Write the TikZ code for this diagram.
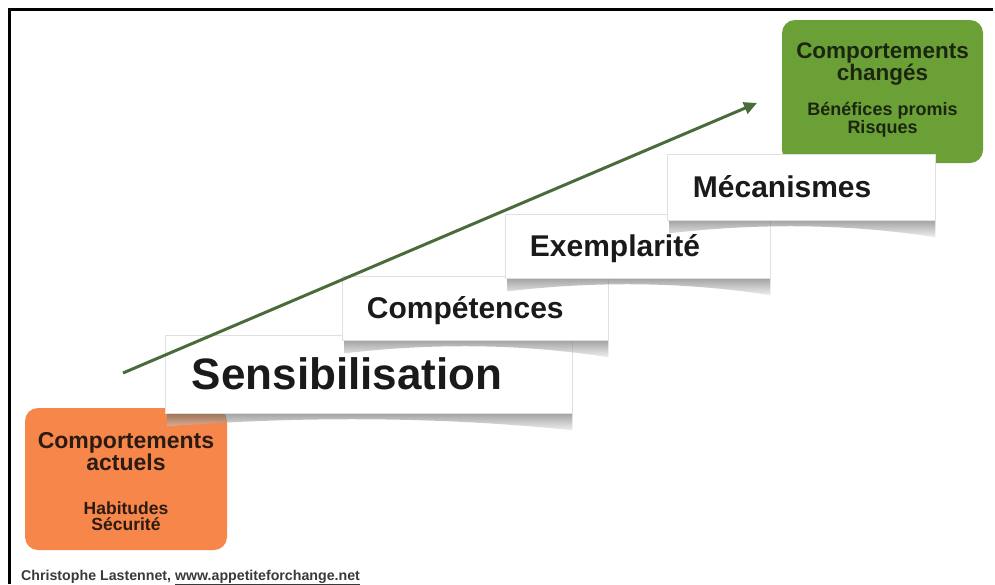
\documentclass[tikz,border=0pt]{standalone}
\usepackage{fontspec}
\setmainfont{Liberation Sans}
\usetikzlibrary{arrows.meta,calc}

\definecolor{startorange}{HTML}{F6864A}
\definecolor{goalgreen}{HTML}{6BA037}
\definecolor{arrowgreen}{HTML}{4A6B3A}
\definecolor{ink}{HTML}{1A1A1A}
\definecolor{orangeink}{HTML}{2B1B12}
\definecolor{greenink}{HTML}{1B2610}
\definecolor{creditgrey}{HTML}{3A3A3A}

\tikzset{
  statebox/.style={rounded corners=13pt, inner sep=0pt},
  statetitle/.style={align=center, inner sep=0pt, font=\bfseries\fontsize{23}{22}\selectfont},
  statesub/.style={align=center, inner sep=0pt, font=\bfseries\fontsize{17.5}{16}\selectfont},
  stepbox/.style={draw=black!12, line width=0.6pt, fill=white, inner sep=0pt},
  steplabel/.style={anchor=base west, inner sep=0pt, text=ink, font=\bfseries\fontsize{30}{31}\selectfont},
  stepshadow/.style={top color=black!60, bottom color=black!10, fill opacity=0.6},
  progress/.style={draw=arrowgreen, line width=3pt, -{Triangle[length=13pt,width=12pt]}},
}

% shadow under a step: darker just below the card, bottom edge bowed upward
\newcommand{\cardshadow}[1]{%
  \shade[stepshadow]
    ([xshift=3pt]#1.south west)
    -- ([xshift=3pt,yshift=-13pt]#1.south west)
    .. controls ($(#1.south west)!0.33!(#1.south east)+(0,-3pt)$)
       and ($(#1.south west)!0.67!(#1.south east)+(0,-3pt)$) ..
    ([yshift=-17pt]#1.south east)
    -- (#1.south east) -- cycle;}

\begin{document}
\begin{tikzpicture}[x=1pt,y=-1pt]
  \useasboundingbox (0,0) rectangle (995,584);

  % frame along the top and left edges
  \coordinate (frameBL) at (9.5,584);
  \coordinate (frameTL) at (9.5,9.5);
  \coordinate (frameTR) at (993,9.5);
  \draw[line width=2.5pt] (frameBL) -- (frameTL) -- (frameTR);

  % starting state
  \node[statebox, fill=startorange, minimum width=202pt, minimum height=142pt] (current) at (126,479) {};
  \node[statetitle, text=orangeink] (currentT) at (126,452) {Comportements\\actuels};
  \node[statesub, text=orangeink] (currentS) at (126,516) {Habitudes\\Sécurité};

  % target state
  \node[statebox, fill=goalgreen, minimum width=201pt, minimum height=143pt] (target) at (882.5,91.5) {};
  \node[statetitle, text=greenink, font=\bfseries\fontsize{22.5}{19}\selectfont] (targetT) at (882.5,64) {Comportements\\changés};
  \node[statesub, text=greenink, font=\bfseries\fontsize{18}{16}\selectfont] (targetS) at (882.5,120) {Bénéfices promis\\Risques};

  % step 1
  \node[stepbox, minimum width=407pt, minimum height=78pt] (s1) at (368.5,374) {};
  \cardshadow{s1}
  \node[stepbox, minimum width=407pt, minimum height=78pt] at (s1.center) {};
  \node[steplabel, font=\bfseries\fontsize{44}{45}\selectfont] (s1T) at ([xshift=27pt,yshift=-15.6pt]s1.west) {Sensibilisation};

  % step 2
  \node[stepbox, minimum width=266pt, minimum height=64pt] (s2) at (475,308) {};
  \cardshadow{s2}
  \node[stepbox, minimum width=266pt, minimum height=64pt] at (s2.center) {};
  \node[steplabel] (s2T) at ([xshift=25pt,yshift=-10.7pt]s2.west) {Compétences};

  % step 3
  \node[stepbox, minimum width=265pt, minimum height=64pt] (s3) at (637.5,246) {};
  \cardshadow{s3}
  \node[stepbox, minimum width=265pt, minimum height=64pt] at (s3.center) {};
  \node[steplabel] (s3T) at ([xshift=25pt,yshift=-10.7pt]s3.west) {Exemplarité};

  % step 4
  \node[stepbox, minimum width=268pt, minimum height=66pt] (s4) at (801,187) {};
  \cardshadow{s4}
  \node[stepbox, minimum width=268pt, minimum height=66pt] at (s4.center) {};
  \node[steplabel] (s4T) at ([xshift=26pt,yshift=-10.7pt]s4.west) {Mécanismes};

  % rising arrow
  \coordinate (arrowStart) at (123,373);
  \coordinate (arrowEnd) at (757,103);
  \draw[progress] (arrowStart) -- (arrowEnd);

  % credit line
  \node[anchor=base west, inner sep=0pt, text=creditgrey, font=\bfseries\fontsize{14.2}{15}\selectfont] (credit) at (21,580)
    {Christophe Lastennet, \underline{www.appetiteforchange.net}};
\end{tikzpicture}
\end{document}
